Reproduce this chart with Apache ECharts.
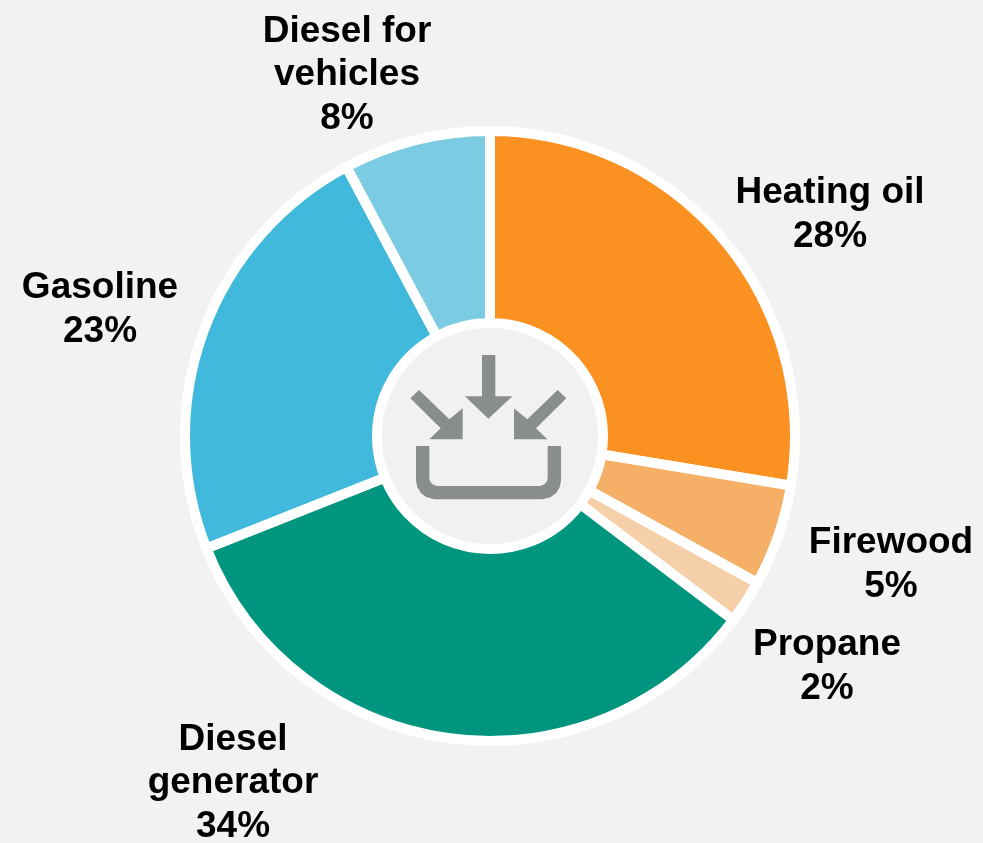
<!DOCTYPE html>
<html>
<head>
<meta charset="utf-8">
<style>html,body{margin:0;padding:0;background:#f2f2f2}#c{width:983px;height:843px}</style>
<script src="https://cdn.jsdelivr.net/npm/echarts@6/dist/echarts.min.js"></script>
</head>
<body>
<div id="c"></div>
<script>
const categories = ['Heating oil','Firewood','Propane','Diesel generator','Gasoline','Diesel for vehicles'];
const labelLines = ['Heating oil','Firewood','Propane','Diesel\ngenerator','Gasoline','Diesel for\nvehicles'];
const values = [27.6,5.4,2.3,33.7,23.2,7.8];
const shownPercents = [28,5,2,34,23,8];
const colors = ['#fa9120','#f6af66','#f5cfa8','#00957e','#41b9dc','#7bcce3'];
const labelCentres = [[830,215],[891,565],[827,667],[233,783],[100,310],[347,75]];

const chart = echarts.init(document.getElementById('c'), null, {renderer:'canvas'});
chart.setOption({
  backgroundColor:'#f2f2f2',
  animation:false,
  series:[{
    type:'pie',
    center:[490,436],
    radius:[113,305],
    startAngle:90,
    clockwise:true,
    silent:true,
    avoidLabelOverlap:false,
    itemStyle:{borderColor:'#ffffff',borderWidth:10},
    label:{
      show:true,
      position:'outside',
      formatter:p=>labelLines[p.dataIndex]+'\n'+shownPercents[p.dataIndex]+'%',
      fontFamily:'"Liberation Sans", Arial, sans-serif',
      fontWeight:'bold',
      fontSize:37,
      lineHeight:43.5,
      color:'#000',
      align:'center',
      verticalAlign:'middle'
    },
    labelLine:{show:false},
    labelLayout:p=>({x:labelCentres[p.dataIndex][0],y:labelCentres[p.dataIndex][1],align:'center',verticalAlign:'middle'}),
    data:categories.map((name,i)=>({name,value:values[i],itemStyle:{color:colors[i]}}))
  }],
  graphic:[
    {type:'circle',shape:{cx:490,cy:436,r:108},style:{fill:'#f1f1f1'},z:10},
    {type:'group',x:370,y:320,scaleX:1/3,scaleY:1/3,z:11,children:[
      {type:'polygon',shape:{points:[[336,105],[376,105],[376,229],[427,229],[355,296],[285,229],[336,229]]},style:{fill:'#8a8d8e'},z:11},
      {type:'polygon',shape:{points:[[147,210],[238,298],[278,265],[278,358],[178,358],[212,325],[121,235]]},style:{fill:'#8a8d8e'},z:11},
      {type:'polygon',shape:{points:[[563,210],[472,298],[432,265],[432,358],[532,358],[498,325],[589,235]]},style:{fill:'#8a8d8e'},z:11},
      {type:'polygon',shape:{points:[
        [138,378],[178,378],[178,474],[180,484],[186,491],[194,496],[204,498],
        [507,498],[517,496],[525,491],[531,484],[533,474],[533,378],[573,378],
        [573,482],[569,502],[558,520],[541,532],[517,538],[194,538],[170,532],[153,520],[142,502],[138,482]
      ]},style:{fill:'#8a8d8e'},z:11}
    ]}
  ]
});
</script>
</body>
</html>
